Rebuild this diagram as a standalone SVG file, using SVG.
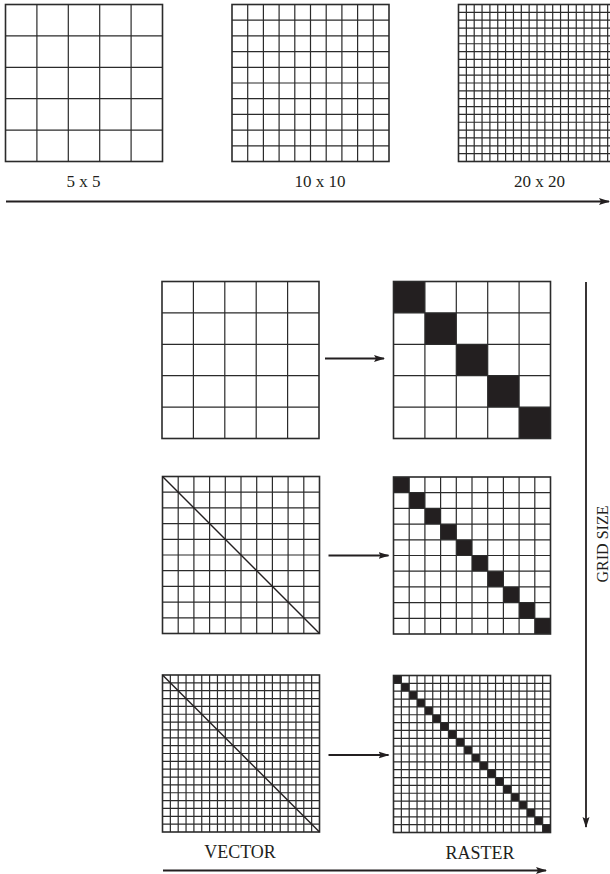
<svg xmlns="http://www.w3.org/2000/svg" width="610" height="874" viewBox="0 0 610 874">
<style>
.gl{fill:none;stroke:#2b2b2b;stroke-width:1.2}
.bd{fill:none;stroke:#2b2b2b;stroke-width:1.6}
.fc{fill:#231f20}
.dg{fill:none;stroke:#231f20;stroke-width:1.4}
.ar{fill:none;stroke:#231f20;stroke-width:1.8}
.lb{font-family:"Liberation Serif","Times New Roman",serif;fill:#231f20;text-anchor:middle}
</style>
<defs>
<marker id="ah" markerUnits="userSpaceOnUse" markerWidth="12" markerHeight="8" refX="10" refY="4" orient="auto">
<path d="M0 0.5L11 4L0 7.5L2 4z" fill="#231f20"/>
</marker>
<g id="g5">
<rect class="bd" x="0" y="0" width="157" height="157"/>
<path class="gl" d="M31.4 0V157M62.8 0V157M94.2 0V157M125.6 0V157M0 31.4H157M0 62.8H157M0 94.2H157M0 125.6H157"/>
</g>
<g id="g10">
<rect class="bd" x="0" y="0" width="157" height="157"/>
<path class="gl" d="M15.7 0V157M31.4 0V157M47.1 0V157M62.8 0V157M78.5 0V157M94.2 0V157M109.9 0V157M125.6 0V157M141.3 0V157M0 15.7H157M0 31.4H157M0 47.1H157M0 62.8H157M0 78.5H157M0 94.2H157M0 109.9H157M0 125.6H157M0 141.3H157"/>
</g>
<g id="g20">
<rect class="bd" x="0" y="0" width="157" height="157"/>
<path class="gl" d="M7.85 0V157M15.7 0V157M23.55 0V157M31.4 0V157M39.25 0V157M47.1 0V157M54.95 0V157M62.8 0V157M70.65 0V157M78.5 0V157M86.35 0V157M94.2 0V157M102.05 0V157M109.9 0V157M117.75 0V157M125.6 0V157M133.45 0V157M141.3 0V157M149.15 0V157M0 7.85H157M0 15.7H157M0 23.55H157M0 31.4H157M0 39.25H157M0 47.1H157M0 54.95H157M0 62.8H157M0 70.65H157M0 78.5H157M0 86.35H157M0 94.2H157M0 102.05H157M0 109.9H157M0 117.75H157M0 125.6H157M0 133.45H157M0 141.3H157M0 149.15H157"/>
</g>
<g id="f5">
<rect class="fc" x="0" y="0" width="31.4" height="31.4"/>
<rect class="fc" x="31.4" y="31.4" width="31.4" height="31.4"/>
<rect class="fc" x="62.8" y="62.8" width="31.4" height="31.4"/>
<rect class="fc" x="94.2" y="94.2" width="31.4" height="31.4"/>
<rect class="fc" x="125.6" y="125.6" width="31.4" height="31.4"/>
</g>
<g id="f10">
<rect class="fc" x="0" y="0" width="15.7" height="15.7"/>
<rect class="fc" x="15.7" y="15.7" width="15.7" height="15.7"/>
<rect class="fc" x="31.4" y="31.4" width="15.7" height="15.7"/>
<rect class="fc" x="47.1" y="47.1" width="15.7" height="15.7"/>
<rect class="fc" x="62.8" y="62.8" width="15.7" height="15.7"/>
<rect class="fc" x="78.5" y="78.5" width="15.7" height="15.7"/>
<rect class="fc" x="94.2" y="94.2" width="15.7" height="15.7"/>
<rect class="fc" x="109.9" y="109.9" width="15.7" height="15.7"/>
<rect class="fc" x="125.6" y="125.6" width="15.7" height="15.7"/>
<rect class="fc" x="141.3" y="141.3" width="15.7" height="15.7"/>
</g>
<g id="f20">
<rect class="fc" x="0" y="0" width="7.85" height="7.85"/>
<rect class="fc" x="7.85" y="7.85" width="7.85" height="7.85"/>
<rect class="fc" x="15.7" y="15.7" width="7.85" height="7.85"/>
<rect class="fc" x="23.55" y="23.55" width="7.85" height="7.85"/>
<rect class="fc" x="31.4" y="31.4" width="7.85" height="7.85"/>
<rect class="fc" x="39.25" y="39.25" width="7.85" height="7.85"/>
<rect class="fc" x="47.1" y="47.1" width="7.85" height="7.85"/>
<rect class="fc" x="54.95" y="54.95" width="7.85" height="7.85"/>
<rect class="fc" x="62.8" y="62.8" width="7.85" height="7.85"/>
<rect class="fc" x="70.65" y="70.65" width="7.85" height="7.85"/>
<rect class="fc" x="78.5" y="78.5" width="7.85" height="7.85"/>
<rect class="fc" x="86.35" y="86.35" width="7.85" height="7.85"/>
<rect class="fc" x="94.2" y="94.2" width="7.85" height="7.85"/>
<rect class="fc" x="102.05" y="102.05" width="7.85" height="7.85"/>
<rect class="fc" x="109.9" y="109.9" width="7.85" height="7.85"/>
<rect class="fc" x="117.75" y="117.75" width="7.85" height="7.85"/>
<rect class="fc" x="125.6" y="125.6" width="7.85" height="7.85"/>
<rect class="fc" x="133.45" y="133.45" width="7.85" height="7.85"/>
<rect class="fc" x="141.3" y="141.3" width="7.85" height="7.85"/>
<rect class="fc" x="149.15" y="149.15" width="7.85" height="7.85"/>
</g>
</defs>
<rect x="0" y="0" width="610" height="874" fill="#fff"/>

<g id="top-5x5">
<use href="#g5" x="5.5" y="4.5"/>
<text class="lb" x="83.5" y="187" font-size="17">5 x 5</text>
</g>
<g id="top-10x10">
<use href="#g10" x="232" y="4.5"/>
<text class="lb" x="320" y="187" font-size="17">10 x 10</text>
</g>
<g id="top-20x20">
<use href="#g20" x="458.5" y="4.5"/>
<text class="lb" x="539.5" y="187" font-size="17">20 x 20</text>
</g>

<g id="vector-5">
<use href="#g5" x="162" y="281.5"/>
</g>
<g id="raster-5">
<use href="#f5" x="393.5" y="281.5"/>
<use href="#g5" x="393.5" y="281.5"/>
</g>
<g id="vector-10">
<use href="#g10" x="162.5" y="476.5"/>
<path class="dg" d="M162.5 476.5L319.5 633.5"/>
</g>
<g id="raster-10">
<use href="#f10" x="393.5" y="477"/>
<use href="#g10" x="393.5" y="477"/>
</g>
<g id="vector-20">
<use href="#g20" x="162.5" y="675"/>
<path class="dg" d="M162.5 675L319.5 832"/>
</g>
<g id="raster-20">
<use href="#f20" x="393.5" y="675.5"/>
<use href="#g20" x="393.5" y="675.5"/>
</g>

<g id="labels">
<text class="lb" x="240" y="858" font-size="18">VECTOR</text>
<text class="lb" x="480" y="858.5" font-size="18">RASTER</text>
<text class="lb" font-size="16" transform="translate(607.5 544) rotate(-90)">GRID SIZE</text>
</g>

<g id="connectors">
<path class="ar" d="M6 201.5H609" marker-end="url(#ah)"/>
<path class="ar" d="M325 358.5H384" stroke-width="1.6" marker-end="url(#ah)"/>
<path class="ar" d="M328.5 555.5H388.5" stroke-width="1.6" marker-end="url(#ah)"/>
<path class="ar" d="M328.5 755H388.5" stroke-width="1.6" marker-end="url(#ah)"/>
<path class="ar" d="M586 282V827" marker-end="url(#ah)"/>
<path class="ar" d="M163 870.5H546" marker-end="url(#ah)"/>
</g>
</svg>
